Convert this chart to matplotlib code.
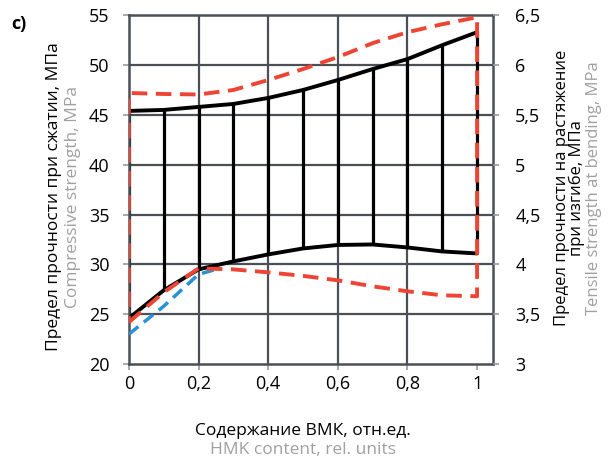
import numpy as np
import matplotlib.pyplot as plt

plt.rcParams['font.family'] = ['Open Sans', 'DejaVu Sans']

# Содержание ВМК (x) и пределы прочности (левая ось, МПа)
x = np.array([0.0, 0.1, 0.2, 0.3, 0.4, 0.5, 0.6, 0.7, 0.8, 0.9, 1.0])
black_up = np.array([45.4, 45.5, 45.8, 46.1, 46.7, 47.5, 48.5, 49.6, 50.6, 52.0, 53.3])
black_low = np.array([24.6, 27.4, 29.5, 30.3, 31.0, 31.6, 31.95, 32.0, 31.7, 31.3, 31.1])
red_up = np.array([47.2, 47.1, 47.05, 47.5, 48.5, 49.6, 50.8, 52.2, 53.3, 54.1, 54.8])
red_low = np.array([24.2, 27.2, 29.6, 29.5, 29.2, 28.85, 28.4, 27.8, 27.3, 26.9, 26.8])
x_blue = np.array([0.0, 0.1, 0.2, 0.25])
blue = np.array([23.0, 25.8, 29.0, 29.5])

x_ticks = [0, 0.2, 0.4, 0.6, 0.8, 1.0]
x_labels = ['0', '0,2', '0,4', '0,6', '0,8', '1']
y_ticks = [20, 25, 30, 35, 40, 45, 50, 55]
y2_ticks = [3, 3.5, 4, 4.5, 5, 5.5, 6, 6.5]
y2_labels = ['3', '3,5', '4', '4,5', '5', '5,5', '6', '6,5']

grid_c = '#4a5055'
red_c = '#ee4433'
blue_c = '#2a90d8'
gray_txt = '#a0a0a0'

fig = plt.figure(figsize=(6.08, 4.62), dpi=100)
ax = fig.add_axes([0.212, 0.212, 0.599, 0.755])
ax.set_xlim(0, 1.046)
ax.set_ylim(20, 55)

# сетка
for xv in [0.2, 0.4, 0.6, 0.8]:
    ax.axvline(xv, color=grid_c, lw=1.6, zorder=0)
for yv in y_ticks[1:-1]:
    ax.axhline(yv, color=grid_c, lw=1.6, zorder=0)
for s in ax.spines.values():
    s.set_color(grid_c)
    s.set_linewidth(1.8)

# диапазоны (вертикальные линии) и кривые
ax.vlines(x, black_low, black_up, color='black', lw=2.3, zorder=2)
ax.plot(x, black_up, color='black', lw=2.8, zorder=3, solid_capstyle='round')
ax.plot(x, black_low, color='black', lw=2.8, zorder=3, solid_capstyle='round')
ax.plot(x_blue, blue, color=blue_c, lw=2.5, dashes=(3.5, 2.0), zorder=4)

# красный контур
rx = np.concatenate([x, x[::-1], [x[0]]])
ry = np.concatenate([red_low, red_up[::-1], [red_low[0]]])
ax.plot(rx, ry, color=red_c, lw=2.8, dashes=(4.0, 2.2), zorder=5)

ax.set_xticks(x_ticks)
ax.set_xticklabels(x_labels)
ax.set_yticks(y_ticks)
ax.tick_params(axis='both', colors='#9a9a9a', labelcolor='black',
               labelsize=13, length=4, width=1.2)
ax.tick_params(axis='y', pad=10)
ax.tick_params(axis='x', pad=4)

ax2 = ax.twinx()
ax2.set_ylim(3, 6.5)
ax2.set_yticks(y2_ticks)
ax2.set_yticklabels(y2_labels)
ax2.tick_params(axis='y', colors='#9a9a9a', labelcolor='black',
                labelsize=13, length=4, width=1.2, pad=12)
for s in ax2.spines.values():
    s.set_visible(False)

# подписи осей
fig.text(0.089, 0.574, 'Предел прочности при сжатии, МПа', rotation=90,
         ha='center', va='center', fontsize=12.5)
fig.text(0.120, 0.574, 'Compressive strength, MPa', rotation=90,
         ha='center', va='center', fontsize=12.5, color=gray_txt)
fig.text(0.936, 0.593, 'Предел прочности на растяжение\nпри изгибе, МПа',
         rotation=90, ha='center', va='center', fontsize=12,
         linespacing=0.9, multialignment='center')
fig.text(0.977, 0.593, 'Tensile strength at bending, MPa', rotation=90,
         ha='center', va='center', fontsize=12, color=gray_txt)
fig.text(0.498, 0.068, 'Содержание ВМК, отн.ед.', ha='center', va='center',
         fontsize=12.5)
fig.text(0.498, 0.027, 'HMK content, rel. units', ha='center', va='center',
         fontsize=12.5, color=gray_txt)
fig.text(0.018, 0.948, 'c)', fontsize=13, fontweight='bold', va='center')

fig.savefig('out.png', dpi=100)
